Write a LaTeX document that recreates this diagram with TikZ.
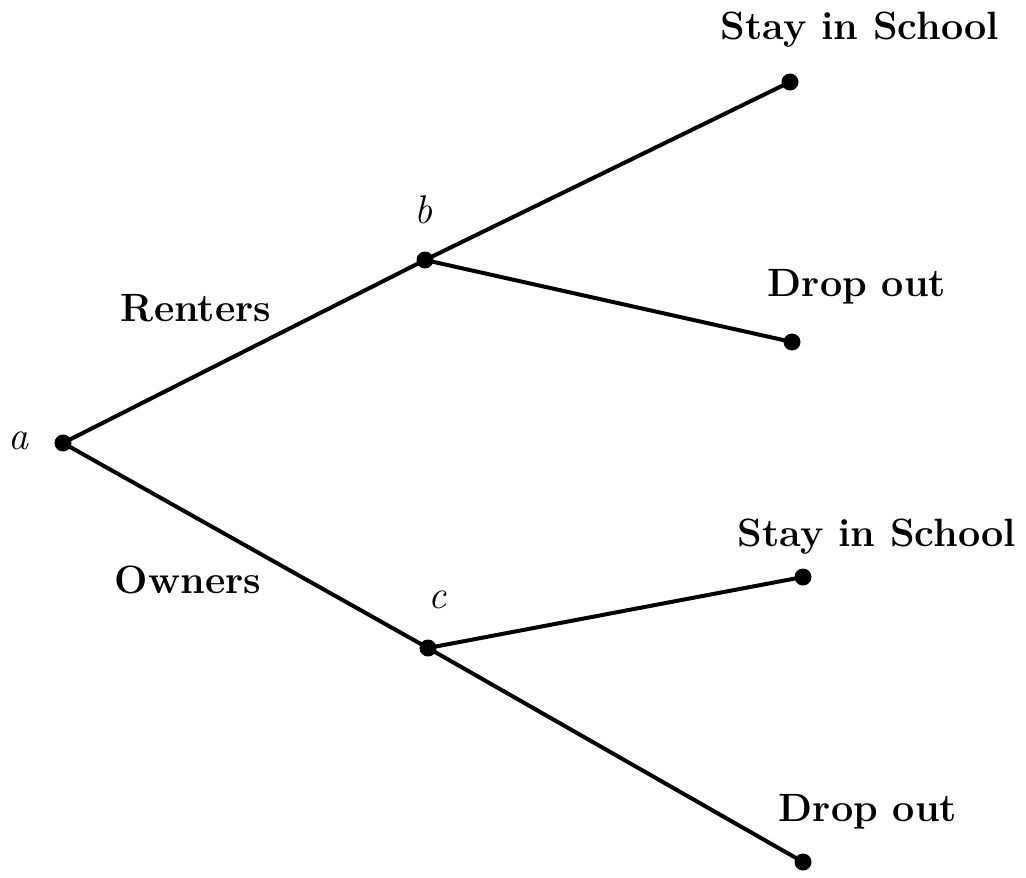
\documentclass[tikz,border=0pt]{standalone}
\begin{document}
\begin{tikzpicture}[x=1pt,y=-1pt,
  dot/.style={circle,fill=black,inner sep=0pt,minimum size=17pt},
  edge/.style={line width=4pt},
  lbl/.style={font=\fontsize{39.5}{45}\selectfont\bfseries},
  vlbl/.style={font=\fontsize{40}{45}\selectfont\itshape}]
\useasboundingbox (0,0) rectangle (1026,878);
\node[dot] (a) at (63,443) {};
\node[dot] (b) at (425,260) {};
\node[dot] (c) at (428,648) {};
\node[dot] (s1) at (790,82) {};
\node[dot] (d1) at (792,342) {};
\node[dot] (s2) at (803,577) {};
\node[dot] (d2) at (803,862) {};
\draw[edge] (a.center) -- (b.center);
\draw[edge] (a.center) -- (c.center);
\draw[edge] (b.center) -- (s1.center);
\draw[edge] (b.center) -- (d1.center);
\draw[edge] (c.center) -- (s2.center);
\draw[edge] (c.center) -- (d2.center);
\node[vlbl] (la) at (19,441) {a};
\node[vlbl] (lb) at (423,210) {b};
\node[vlbl] (lc) at (437,600) {c};
\node[lbl] (ls1) at (860,30) {Stay in School};
\node[lbl] (ld1) at (857,287) {Drop out};
\node[lbl] (ls2) at (877,537) {Stay in School};
\node[lbl] (ld2) at (868,812) {Drop out};
\node[lbl] (lr) at (196,308) {Renters};
\node[lbl] (lo) at (188,580) {Owners};
\end{tikzpicture}
\end{document}
